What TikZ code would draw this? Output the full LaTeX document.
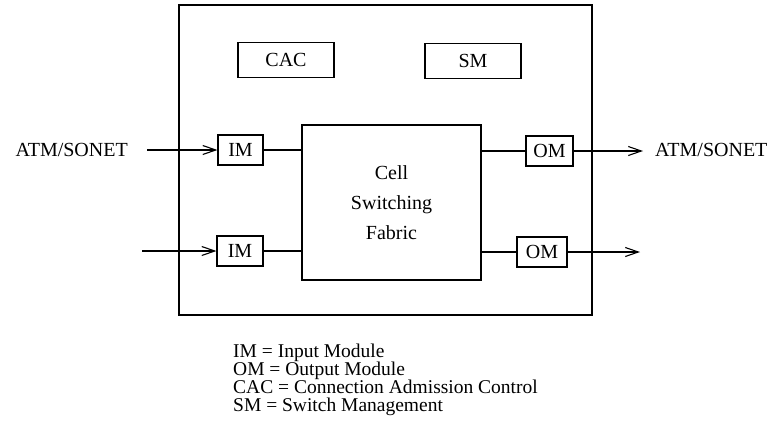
\documentclass[tikz,border=0pt]{standalone}
\usepackage{fontspec}
\setmainfont{Liberation Serif}
\usetikzlibrary{arrows.meta}
\begin{document}
\begin{tikzpicture}[x=1pt,y=-1pt,
  every node/.style={font=\fontsize{20}{24}\selectfont},
  box/.style={draw,line width=1.1pt,inner sep=0pt},
  wire/.style={line width=1.1pt},
  legendline/.style={inner sep=0pt,anchor=base west,font=\fontsize{19.5}{20}\selectfont},
  arr/.style={line width=1.1pt,-{Straight Barb[length=13pt,width=9pt,line width=1.1pt]}}]
\useasboundingbox (0,0) rectangle (777,432);
\node[box,minimum width=413pt,minimum height=310pt] (outer) at (385.5,160) {};
\node[box,minimum width=96pt,minimum height=35pt] (cac) at (286,60) {CAC};
\node[box,minimum width=96pt,minimum height=35pt] (sm) at (473,61) {SM};
\node[box,minimum width=179pt,minimum height=155pt,align=center,
  font=\fontsize{20}{30}\selectfont] (fab) at (391.5,202.5) {Cell\\Switching\\Fabric};
\node[box,minimum width=45pt,minimum height=30pt] (im1) at (240.5,150) {IM};
\node[box,minimum width=46pt,minimum height=30pt] (im2) at (240,251) {IM};
\node[box,minimum width=47pt,minimum height=30pt] (om1) at (549.5,151) {OM};
\node[box,minimum width=50pt,minimum height=30pt] (om2) at (542,252) {OM};
\node[inner sep=0pt,anchor=east] (lin) at (128,150) {ATM/SONET};
\node[inner sep=0pt,anchor=west] (lout) at (655,150) {ATM/SONET};
\coordinate (in1) at (147,150);
\coordinate (in2) at (142,251);
\coordinate (out1) at (643,151);
\coordinate (out2) at (640,252);
\draw[arr] (in1) -- (im1.west);
\draw[arr] (in2) -- (im2.west);
\draw[wire] (im1.east) -- (im1.east -| fab.west);
\draw[wire] (im2.east) -- (im2.east -| fab.west);
\draw[wire] (om1.west -| fab.east) -- (om1.west);
\draw[wire] (om2.west -| fab.east) -- (om2.west);
\draw[arr] (om1.east) -- (out1);
\draw[arr] (om2.east) -- (out2);
\node[legendline] (leg1) at (233,357) {IM = Input Module};
\node[legendline] (leg2) at (233,375) {OM = Output Module};
\node[legendline] (leg3) at (233,393) {CAC = Connection Admission Control};
\node[legendline] (leg4) at (233,411) {SM = Switch Management};
\end{tikzpicture}
\end{document}
